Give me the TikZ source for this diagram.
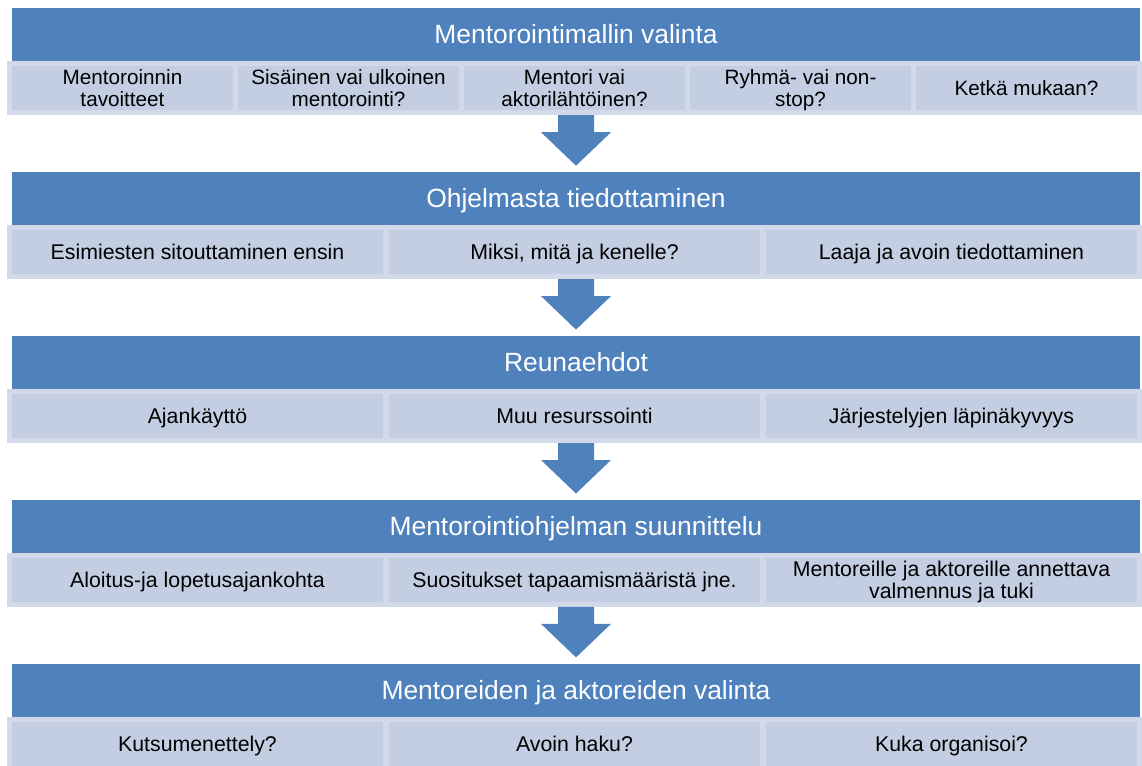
\documentclass[tikz,border=0pt]{standalone}
\usepackage{fontspec}
\setmainfont{Liberation Sans}
\usetikzlibrary{calc}

\definecolor{hdrblue}{RGB}{79,129,189}
\definecolor{panelfill}{RGB}{210,218,233}
\definecolor{cellfill}{RGB}{195,206,226}

\tikzset{
  hdr/.style={fill=hdrblue, draw=none, minimum width=1128pt, minimum height=53pt,
    inner sep=0pt, text=white, text height=18.9pt, text depth=0pt,
    font=\fontsize{26.4}{28}\selectfont},
  panel/.style={fill=panelfill, draw=none, minimum width=1135pt, minimum height=54pt, inner sep=0pt},
  cell/.style={fill=cellfill, draw=none, minimum height=44pt, inner sep=0pt,
    align=center, text=black, text depth=0pt, font=\fontsize{21.3}{21.6}\selectfont},
  oneline/.style={text height=15.3pt},
  cellfive/.style={cell, minimum width=221pt, font=\fontsize{20.7}{21.7}\selectfont},
  cellthree/.style={cell, minimum width=371pt},
  flow/.style={fill=hdrblue, draw=none},
}

% block arrow from the panel of one stage to the header of the next
\newcommand{\stagearrow}[2]{%
  \fill[flow] ($(#1.south)+(1.5,0)+(-18,0)$) -- ++(36,0) -- ++(0,17) -- ++(17,0)
    -- ($(#2.north)+(0,-6)$) -- ($(#1.south)+(1.5,17)+(-35,0)$) -- ++(17,0) -- cycle;}

\begin{document}
\begin{tikzpicture}[x=1pt,y=-1pt]
\useasboundingbox (0,0) rectangle (1142,765);

% ---- stage 1
\node[hdr] (h1) at (576,34.5) {Mentorointimallin valinta};
\node[panel] (p1) at (574.5,88) {};
\node[cellfive] (c11) at (122.5,88) {Mentoroinnin\\tavoitteet};
\node[cellfive] (c12) at (348.5,88) {Sisäinen vai ulkoinen\\mentorointi?};
\node[cellfive] (c13) at (574.5,88) {Mentori vai\\aktorilähtöinen?};
\node[cellfive] (c14) at (800.5,88) {Ryhmä- vai non-\\stop?};
\node[cellfive,oneline] (c15) at (1026.5,88) {Ketkä mukaan?};

% ---- stage 2
\node[hdr] (h2) at (576,198.4) {Ohjelmasta tiedottaminen};
\node[panel] (p2) at (574.5,251.9) {};
\node[cellthree,oneline] (c21) at (197.5,251.9) {Esimiesten sitouttaminen ensin};
\node[cellthree,oneline] (c22) at (574.5,251.9) {Miksi, mitä ja kenelle?};
\node[cellthree,oneline] (c23) at (951.5,251.9) {Laaja ja avoin tiedottaminen};

% ---- stage 3
\node[hdr] (h3) at (576,362.3) {Reunaehdot};
\node[panel] (p3) at (574.5,415.8) {};
\node[cellthree,oneline] (c31) at (197.5,415.8) {Ajankäyttö};
\node[cellthree,oneline] (c32) at (574.5,415.8) {Muu resurssointi};
\node[cellthree,oneline] (c33) at (951.5,415.8) {Järjestelyjen läpinäkyvyys};

% ---- stage 4
\node[hdr] (h4) at (576,526.2) {Mentorointiohjelman suunnittelu};
\node[panel] (p4) at (574.5,579.7) {};
\node[cellthree,oneline] (c41) at (197.5,579.7) {Aloitus-ja lopetusajankohta};
\node[cellthree,oneline] (c42) at (574.5,579.7) {Suositukset tapaamismääristä jne.};
\node[cellthree] (c43) at (951.5,579.7) {Mentoreille ja aktoreille annettava\\valmennus ja tuki};

% ---- stage 5
\node[hdr] (h5) at (576,690.1) {Mentoreiden ja aktoreiden valinta};
\node[panel] (p5) at (574.5,743.6) {};
\node[cellthree,oneline] (c51) at (197.5,743.6) {Kutsumenettely?};
\node[cellthree,oneline] (c52) at (574.5,743.6) {Avoin haku?};
\node[cellthree,oneline] (c53) at (951.5,743.6) {Kuka organisoi?};

% ---- arrows between stages
\stagearrow{p1}{h2}
\stagearrow{p2}{h3}
\stagearrow{p3}{h4}
\stagearrow{p4}{h5}
\end{tikzpicture}
\end{document}
